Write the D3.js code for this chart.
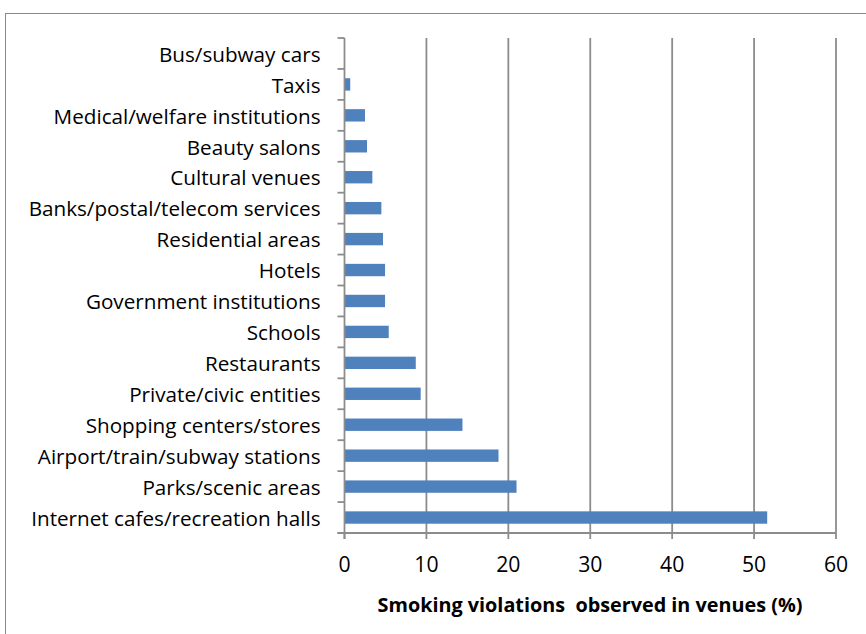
<!DOCTYPE html>
<html><head><meta charset="utf-8">
<script src="https://cdn.jsdelivr.net/npm/d3@7"></script>
<style>body{margin:0;background:#fff}svg{display:block}</style>
</head><body>
<svg id="c" width="866" height="634"></svg>
<script>
const categories = ["Bus/subway cars","Taxis","Medical/welfare institutions","Beauty salons","Cultural venues","Banks/postal/telecom services","Residential areas","Hotels","Government institutions","Schools","Restaurants","Private/civic entities","Shopping centers/stores","Airport/train/subway stations","Parks/scenic areas","Internet cafes/recreation halls"];
const values = [0, 0.7, 2.5, 2.75, 3.4, 4.5, 4.7, 4.95, 4.95, 5.4, 8.7, 9.3, 14.4, 18.8, 21.0, 51.6];
const xTicks = [0,10,20,30,40,50,60];
const xTitle = "Smoking violations  observed in venues (%)";

(function(){
const svg = d3.select("#c");
const font = "'Open Sans', sans-serif";
const pL = 344.5, pR = 836, pT = 38, pB = 533;

svg.append("rect").attr("x",5.5).attr("y",13.5).attr("width",900).attr("height",700)
  .attr("fill","none").attr("stroke","#888").attr("stroke-width",1);

const x = d3.scaleLinear().domain([0,60]).range([pL,pR]);
const y = d3.scaleBand().domain(categories).range([pT,pB]).paddingInner(0.6).paddingOuter(0.3);

svg.append("g").selectAll("line").data(xTicks.slice(1)).join("line")
  .attr("x1",d=>x(d)).attr("x2",d=>x(d)).attr("y1",pT).attr("y2",pB)
  .attr("stroke","#8c8c8c").attr("stroke-width",1.8);

svg.append("g").selectAll("rect").data(values).join("rect")
  .attr("x",x(0)).attr("y",(d,i)=>y(categories[i]))
  .attr("width",d=>x(d)-x(0)).attr("height",y.bandwidth())
  .attr("fill","#4f81bd");

const yb = d3.scaleBand().domain(categories).range([pT,pB]);
svg.append("line").attr("x1",pL).attr("x2",pL).attr("y1",pT).attr("y2",pB+6)
  .attr("stroke","#8c8c8c").attr("stroke-width",1.8);
svg.append("g").selectAll("line").data(d3.range(categories.length+1)).join("line")
  .attr("x1",pL-7).attr("x2",pL).attr("y1",i=>pT+i*yb.step()).attr("y2",i=>pT+i*yb.step())
  .attr("stroke","#8c8c8c").attr("stroke-width",1.8);
const labels = svg.append("g").selectAll("text").data(categories).join("text")
  .attr("x",pL-24).attr("y",d=>y(d)+y.bandwidth()/2+1).attr("dy","0.35em")
  .attr("text-anchor","end").attr("font-family",font).attr("font-size",18).attr("fill","#000")
  .text(d=>d);
const w = d3.max(labels.nodes(), n=>n.getComputedTextLength());
const fs = 18*292/w;
labels.attr("font-size",fs);

svg.append("line").attr("x1",pL-7).attr("x2",pR).attr("y1",pB).attr("y2",pB)
  .attr("stroke","#8c8c8c").attr("stroke-width",1.8);
svg.append("g").selectAll("line").data(xTicks).join("line")
  .attr("x1",d=>x(d)).attr("x2",d=>x(d)).attr("y1",pB).attr("y2",pB+6)
  .attr("stroke","#8c8c8c").attr("stroke-width",1.8);
svg.append("g").selectAll("text").data(xTicks).join("text")
  .attr("x",d=>x(d)).attr("y",565).attr("dy","0.35em").attr("text-anchor","middle")
  .attr("font-family",font).attr("font-size",fs+0.5).attr("fill","#000").text(d=>d);

const t = svg.append("text").attr("x",590).attr("y",605).attr("dy","0.35em").attr("text-anchor","middle")
  .style("white-space","pre")
  .attr("font-family",font).attr("font-size",17).attr("font-weight","bold").attr("fill","#000")
  .text(xTitle);
const tw = t.node().getComputedTextLength();
t.attr("font-size",17*425/tw);
})();
</script>
</body></html>
